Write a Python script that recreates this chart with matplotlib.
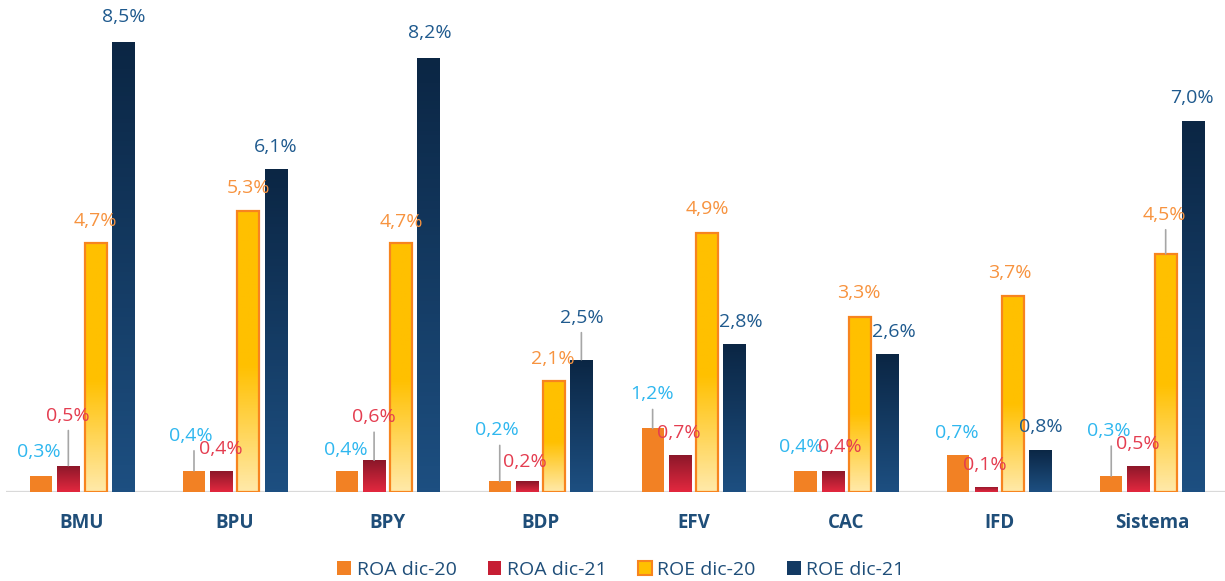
import numpy as np
import matplotlib.pyplot as plt
from matplotlib.colors import LinearSegmentedColormap
from matplotlib.patches import Patch

plt.rcParams['font.family'] = ['Open Sans', 'DejaVu Sans']

entidades = ["BMU", "BPU", "BPY", "BDP", "EFV", "CAC", "IFD", "Sistema"]
roa_20 = [0.3, 0.4, 0.4, 0.2, 1.2, 0.4, 0.7, 0.3]
roa_21 = [0.5, 0.4, 0.6, 0.2, 0.7, 0.4, 0.1, 0.5]
roe_20 = [4.7, 5.3, 4.7, 2.1, 4.9, 3.3, 3.7, 4.5]
roe_21 = [8.5, 6.1, 8.2, 2.5, 2.8, 2.6, 0.8, 7.0]
series = ["ROA dic-20", "ROA dic-21", "ROE dic-20", "ROE dic-21"]

# desplazamiento (px) de cada etiqueta respecto al tope de su barra
desp = [
    [(-2, 24), (-3, 35), (-1, 21), (-3, 51), (-1, 34), (-5, 24), (-2, 22), (-2, 45)],
    [(-1, 50), (0, 22), (0, 43), (-2, 19), (-1, 22), (7, 24), (-1, 22), (-1, 22)],
    [(0, 22), (0, 23), (0, 21), (-1, 22), (0, 24), (-1, 24), (-3, 23), (-1, 39)],
    [(1, 25), (0, 22), (1, 25), (0, 42), (7, 22), (7, 22), (1, 23), (-1, 23)],
]

col_txt = ['#2FB7EF', '#E43D50', '#F7933F', '#1F5A8E']
azul = '#1F4E79'

cm_rojo = LinearSegmentedColormap.from_list('rojo', ['#E3283F', '#8A1729'])
cm_amar = LinearSegmentedColormap.from_list('amar', [(0, '#FFE9A8'), (0.45, '#FFC000'), (1, '#FFC000')])
cm_azul = LinearSegmentedColormap.from_list('azul', ['#1D4F81', '#0B2644'])
cmaps = [None, cm_rojo, cm_amar, cm_azul]

fig = plt.figure(figsize=(12.25, 5.81), dpi=100)
ax = fig.add_axes([5.5 / 1225, 89 / 581, 1223 / 1225, 492 / 581])

x = np.arange(len(entidades))
paso = 0.178
ancho = 0.144
grad = np.linspace(0, 1, 100).reshape(-1, 1)

for k, vals in enumerate([roa_20, roa_21, roe_20, roe_21]):
    xs = x + (k - 1.5) * paso
    if k == 0:
        bars = ax.bar(xs, vals, ancho, color='#F28124', zorder=3)
    elif k == 2:
        bars = ax.bar(xs, vals, ancho, facecolor='none', edgecolor='#F7841F', lw=1.6, zorder=3)
    else:
        bars = ax.bar(xs, vals, ancho, facecolor='none', edgecolor='none', zorder=3)
    if cmaps[k] is not None:
        for p in bars:
            x0, y0 = p.get_xy()
            im = ax.imshow(grad, extent=[x0, x0 + p.get_width(), y0, y0 + p.get_height()],
                           origin='lower', aspect='auto', cmap=cmaps[k], zorder=2)
            im.set_clip_path(p)
    for i, v in enumerate(vals):
        dx, dy = desp[k][i]
        if dy > 30:
            ax.annotate('', xy=(xs[i], v), xytext=(0, dy - 15), textcoords='offset pixels',
                        arrowprops=dict(arrowstyle='-', color='#A6A6A6', lw=1.2,
                                        shrinkA=0, shrinkB=0), zorder=4)
        ax.annotate(f"{v:.1f}%".replace('.', ','), xy=(xs[i], v), xytext=(dx, dy),
                    textcoords='offset pixels', ha='center', va='center',
                    fontsize=14, color=col_txt[k], zorder=5, annotation_clip=False)

ax.axhline(0, color='#D9D9D9', lw=1.6, zorder=1)
ax.set_xlim(-0.5, 7.5)
ax.set_ylim(0, 492 / 52.94)
ax.set_xticks(x)
ax.set_xticklabels(entidades, fontsize=13.5, fontweight='bold', color=azul)
ax.tick_params(axis='x', length=0, pad=15)
ax.set_yticks([])
for s in ax.spines.values():
    s.set_visible(False)

handles = [Patch(facecolor='#F28124'), Patch(facecolor='#C61E34'),
           Patch(facecolor='#FFC000', edgecolor='#F7841F', lw=1.5), Patch(facecolor='#133A63')]
leg = fig.legend(handles, series, loc='center', bbox_to_anchor=(621 / 1225, 11 / 581), ncol=4,
                 frameon=False, fontsize=14, handlelength=0.7, handleheight=0.7,
                 handletextpad=0.3, columnspacing=1.6)
for t in leg.get_texts():
    t.set_color(azul)

fig.savefig("out.png", dpi=100)
